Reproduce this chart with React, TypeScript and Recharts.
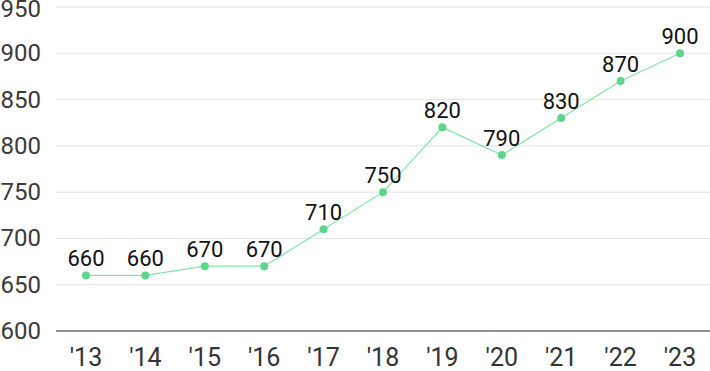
import { LineChart, Line, XAxis, YAxis, CartesianGrid, LabelList } from 'recharts';

const YEARS = ["'13", "'14", "'15", "'16", "'17", "'18", "'19", "'20", "'21", "'22", "'23"];
const VALUES = [660, 660, 670, 670, 710, 750, 820, 790, 830, 870, 900];
const Y_TICKS = [600, 650, 700, 750, 800, 850, 900, 950];

const data = YEARS.map((year, i) => ({ year, value: VALUES[i] }));

const FONT = 'Roboto, "Noto Sans", sans-serif';

function YTick({ y, payload }: { y?: number; payload?: { value: number } }) {
  return (
    <text x={41} y={y} dy={8} textAnchor="end" fontSize={24} fill="#3a3a3a" fontFamily={FONT}>
      {payload?.value}
    </text>
  );
}

export default function App() {
  return (
    <div style={{ width: 710, height: 371, background: '#fff' }}>
      <style>{`body{margin:0}`}</style>
      <LineChart width={710} height={371} data={data} margin={{ top: 7, right: 0, left: 0, bottom: 0 }}>
        <CartesianGrid vertical={false} stroke="#e4e4e4" />
        <XAxis
          dataKey="year"
          padding={{ left: 30, right: 30 }}
          height={40}
          tickLine={false}
          axisLine={{ stroke: '#333', strokeWidth: 1.2 }}
          tick={{ fontSize: 25, fill: '#333', fontFamily: FONT }}
          tickMargin={11}
          interval={0}
        />
        <YAxis
          width={56}
          domain={[600, 950]}
          ticks={Y_TICKS}
          axisLine={false}
          tickLine={false}
          tick={<YTick />}
        />
        <Line
          dataKey="value"
          stroke="#86e2a6"
          strokeWidth={1.2}
          dot={{ r: 4, fill: '#5dd68c', stroke: 'none' }}
          activeDot={false}
          isAnimationActive={false}
        >
          <LabelList dataKey="value" position="top" offset={9} fontSize={22} fill="#111" fontFamily={FONT} />
        </Line>
      </LineChart>
    </div>
  );
}
